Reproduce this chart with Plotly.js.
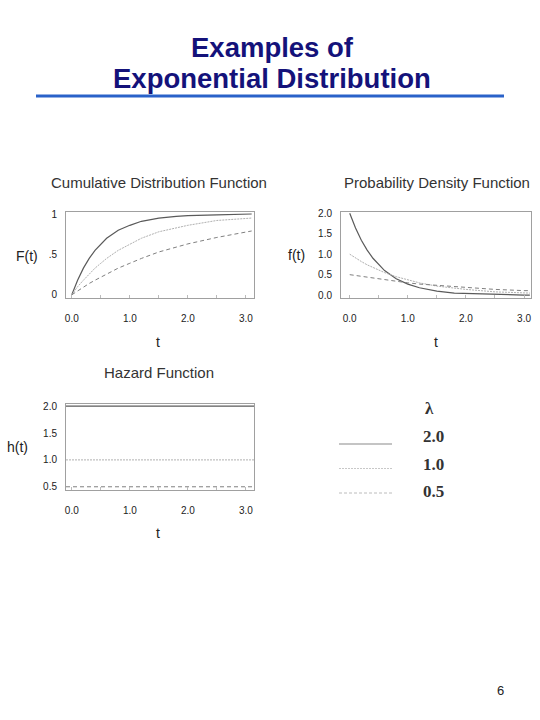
<!DOCTYPE html>
<html>
<head>
<meta charset="utf-8">
<script src="https://cdn.plot.ly/plotly-3.0.1.min.js"></script>
<style>
  html, body { margin: 0; padding: 0; background: #fff; }
  #chart { width: 540px; height: 720px; }
</style>
</head>
<body>
<div id="chart"></div>
<script>
"use strict";

// values
const lambdas = ['2.0', '1.0', '0.5'];
const tValues = [0, 0.1, 0.2, 0.3, 0.4, 0.5, 0.6, 0.8, 1.0, 1.2, 1.5, 1.8, 2.0, 2.5, 3.0, 3.1];

const cdf20 = [0, 0.18, 0.33, 0.45, 0.55, 0.63, 0.70, 0.80, 0.86, 0.91, 0.95, 0.97, 0.98, 0.99, 1.0, 1.0];
const cdf10 = [0, 0.10, 0.18, 0.26, 0.33, 0.39, 0.45, 0.55, 0.63, 0.70, 0.78, 0.83, 0.86, 0.92, 0.95, 0.95];
const cdf05 = [0, 0.05, 0.10, 0.14, 0.18, 0.22, 0.26, 0.33, 0.39, 0.45, 0.53, 0.59, 0.63, 0.71, 0.78, 0.79];

const pdf20 = [2.0, 1.64, 1.34, 1.10, 0.90, 0.74, 0.60, 0.40, 0.27, 0.18, 0.10, 0.05, 0.04, 0.01, 0.0, 0.0];
const pdf10 = [1.0, 0.90, 0.82, 0.74, 0.67, 0.61, 0.55, 0.45, 0.37, 0.30, 0.22, 0.17, 0.14, 0.08, 0.05, 0.05];
const pdf05 = [0.5, 0.48, 0.45, 0.43, 0.41, 0.39, 0.37, 0.34, 0.30, 0.27, 0.24, 0.20, 0.18, 0.14, 0.11, 0.11];

const hazardT = [-0.1, 3.14];
const haz20 = [2.0, 2.0];
const haz10 = [1.0, 1.0];
const haz05 = [0.5, 0.5];

const xTickVals = [0, 1, 2, 3];
const xTickText = ['0.0', '1.0', '2.0', '3.0'];

const lineStyles = [
  {color: '#5a5a5a', width: 1.2, dash: 'solid'},
  {color: '#b0b0b0', width: 1, dash: '2px,1px'},
  {color: '#808080', width: 1, dash: '4px,3px'}
];
const legendStyles = [
  {color: '#c4c4c4', width: 2, dash: 'solid'},
  {color: '#c8c8c8', width: 1, dash: '2px,1px'},
  {color: '#bcbcbc', width: 1, dash: '3px,2px'}
];

function px(x) { return x / 540; }
function py(y) { return 1 - y / 720; }

function series(xs, ys, i, xa, ya) {
  return {x: xs, y: ys, xaxis: xa, yaxis: ya, type: 'scatter', mode: 'lines',
    line: lineStyles[i], hoverinfo: 'skip', showlegend: false};
}

const data = [];
[cdf20, cdf10, cdf05].forEach((s, i) => data.push(series(tValues, s, i, 'x', 'y')));
[pdf20, pdf10, pdf05].forEach((s, i) => data.push(series(tValues, s, i, 'x2', 'y2')));
[haz20, haz10, haz05].forEach((s, i) => data.push(series(hazardT, s, i, 'x3', 'y3')));

const tickFont = {family: 'Arial, sans-serif', size: 10, color: '#222'};

function xAxis(domain, range, anchor) {
  return {domain: domain, range: range, anchor: anchor,
    tickvals: xTickVals, ticktext: xTickText, tickfont: tickFont,
    showline: true, mirror: true, linecolor: '#a0a0a0', linewidth: 1,
    showgrid: false, zeroline: false, ticks: '', ticklabelstandoff: 11,
    minor: {dtick: 0.5, tick0: 0, ticks: 'inside', ticklen: 3, tickcolor: '#bbb'}};
}
function yAxis(domain, range, anchor, vals, text) {
  return {domain: domain, range: range, anchor: anchor,
    tickvals: vals, ticktext: text, tickfont: tickFont,
    showline: true, mirror: true, linecolor: '#a0a0a0', linewidth: 1,
    showgrid: false, zeroline: false, ticks: '', ticklabelstandoff: 6};
}

const topDomain = [py(298), py(212)];
const botDomain = [py(490), py(404)];
const leftX = [px(66), px(254)];
const rightX = [px(341), px(531)];

function note(text, x, y, size, extra) {
  return Object.assign({text: text, x: px(x), y: py(y), xref: 'paper', yref: 'paper',
    showarrow: false, xanchor: 'center', yanchor: 'middle',
    font: {family: 'Arial, sans-serif', size: size, color: '#222'}}, extra || {});
}

const titleFont = {family: 'Arial, sans-serif', size: 27.5, color: '#14127a', weight: 'bold'};
const subFont = {family: 'Arial, sans-serif', size: 15, color: '#333'};
const serifFont = {family: 'Liberation Serif, serif', size: 17, color: '#333'};

const annotations = [
  note('Examples of', 272, 48, 27.5, {font: titleFont}),
  note('Exponential Distribution', 272, 78, 27.5, {font: titleFont}),
  note('Cumulative Distribution Function', 159, 182, 15, {font: subFont}),
  note('Probability Density Function', 437, 182, 15, {font: subFont}),
  note('Hazard Function', 159, 372, 15, {font: subFont}),
  note('F(t)', 27, 256, 14),
  note('f(t)', 296, 255, 14),
  note('h(t)', 17, 447, 14),
  note('t', 158, 342, 14),
  note('t', 436, 342, 14),
  note('t', 158, 533, 14),
  note('<b>λ</b>', 423, 408, 17, {xanchor: 'left', font: serifFont}),
  note('6', 500, 690, 13)
];
lambdas.forEach((l, i) => {
  annotations.push(note('<b>' + l + '</b>', 421, 437 + i * 27, 17,
    {xanchor: 'left', font: serifFont}));
});

const shapes = [
  {type: 'line', xref: 'paper', yref: 'paper', x0: px(36), x1: px(504), y0: py(96), y1: py(96),
   line: {color: '#2a62c9', width: 3}}
];
legendStyles.forEach((st, i) => {
  shapes.push({type: 'line', xref: 'paper', yref: 'paper', x0: px(339), x1: px(392),
    y0: py(444 + i * 24.5), y1: py(444 + i * 24.5), line: st});
});

const layout = {
  width: 540, height: 720,
  margin: {l: 0, r: 0, t: 0, b: 0},
  paper_bgcolor: '#fff', plot_bgcolor: '#fff',
  showlegend: false,
  xaxis: xAxis(leftX, [-0.1, 3.14], 'y'),
  yaxis: yAxis(topDomain, [-0.04, 1.025], 'x', [0, 0.5, 1], ['0', '.5', '1']),
  xaxis2: xAxis(rightX, [-0.15, 3.12], 'y2'),
  yaxis2: yAxis(topDomain, [-0.07, 2.03], 'x2', [0, 0.5, 1, 1.5, 2], ['0.0', '0.5', '1.0', '1.5', '2.0']),
  xaxis3: xAxis(leftX, [-0.1, 3.14], 'y3'),
  yaxis3: yAxis(botDomain, [0.44, 2.04], 'x3', [0.5, 1, 1.5, 2], ['0.5', '1.0', '1.5', '2.0']),
  annotations: annotations,
  shapes: shapes
};

Plotly.newPlot('chart', data, layout, {staticPlot: true, displayModeBar: false});
</script>
</body>
</html>
